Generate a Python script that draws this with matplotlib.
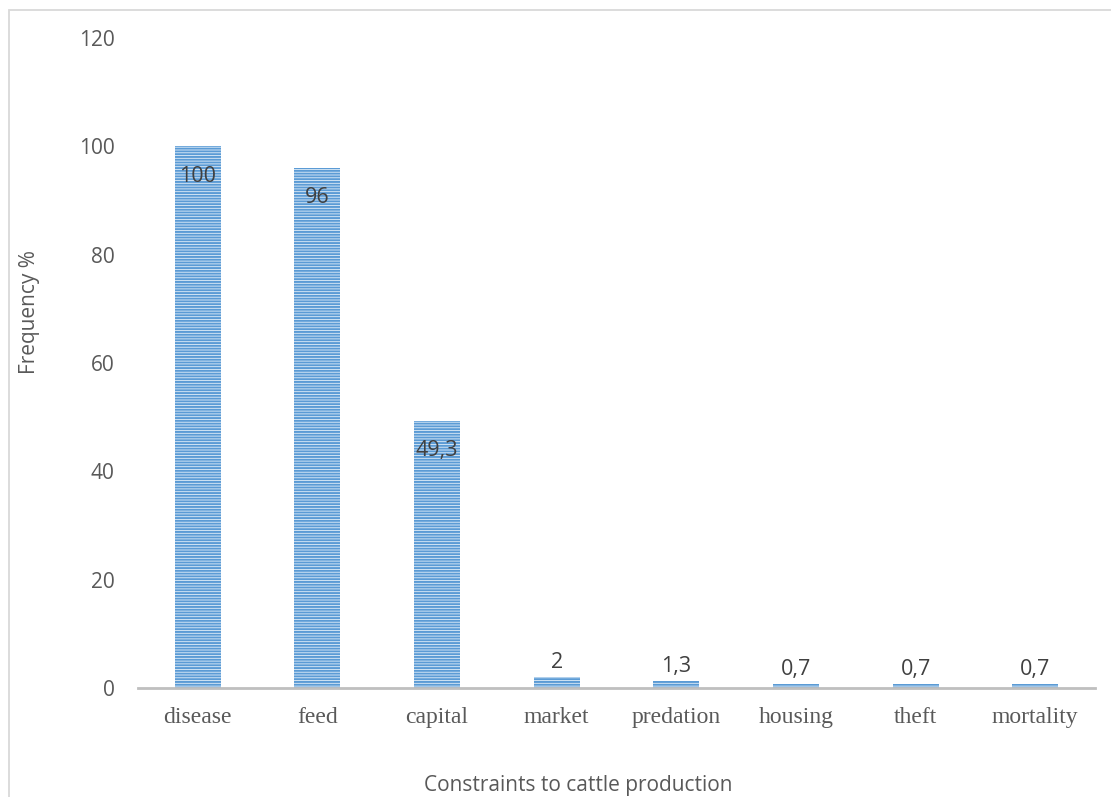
import numpy as np
import matplotlib.pyplot as plt
from matplotlib.patches import Rectangle

# data
categories = ['disease', 'feed', 'capital', 'market', 'predation', 'housing', 'theft', 'mortality']
frequency = [100, 96, 49.3, 2, 1.3, 0.7, 0.7, 0.7]
value_labels = ['100', '96', '49,3', '2', '1,3', '0,7', '0,7', '0,7']
yticks = [0, 20, 40, 60, 80, 100, 120]

sans = ['Open Sans', 'DejaVu Sans']
serif = ['Liberation Serif', 'DejaVu Serif']

plt.rcParams['hatch.linewidth'] = 1.4

fig = plt.figure(figsize=(11.11, 7.97), dpi=100)
ax = fig.add_axes([138 / 1111, 109 / 797, 957 / 1111, 650 / 797])

# light frame around the chart area (cut off at right and bottom)
fig.patches.append(Rectangle((9 / 1111, -0.1), 1.2, (797 - 10) / 797 + 0.1,
                             transform=fig.transFigure, fill=False,
                             edgecolor='#D9D9D9', linewidth=1.3))

x = np.arange(len(categories))
# hatch takes the edge colour; linewidth 0 keeps the outline itself hidden
bars = ax.bar(x, frequency, width=0.385, color='#E2EEF9', edgecolor='#5B9BD5',
              linewidth=0, hatch='------', zorder=2)

for i, (v, lab) in enumerate(zip(frequency, value_labels)):
    if v > 20:
        ax.annotate(lab, (x[i], v), xytext=(0, -14), textcoords='offset points',
                    ha='center', va='top', fontsize=15.5, color='#404040', family=sans)
    else:
        ax.annotate(lab, (x[i], v), xytext=(0, 3), textcoords='offset points',
                    ha='center', va='bottom', fontsize=15.5, color='#404040', family=sans)

ax.set_xlim(-0.5, len(categories) - 0.5)
ax.set_ylim(0, 120)
ax.set_yticks(yticks)
ax.set_yticklabels([str(t) for t in yticks], fontsize=15, color='#595959', family=sans)
ax.set_xticks(x)
ax.set_xticklabels(categories, fontsize=17, color='#595959', family=serif)
ax.tick_params(axis='both', length=0)
ax.tick_params(axis='y', pad=17)
ax.tick_params(axis='x', pad=14)

for s in ['top', 'right', 'left']:
    ax.spines[s].set_visible(False)
ax.spines['bottom'].set_color('#BFBFBF')
ax.spines['bottom'].set_linewidth(2)
ax.spines['bottom'].set_zorder(3)

fig.text(30 / 1111, 1 - 312 / 797, 'Frequency %', rotation=90, ha='center', va='center',
         fontsize=15, color='#595959', family=sans)
fig.text(578 / 1111, 1 - 785 / 797, 'Constraints to cattle production', ha='center',
         va='center', fontsize=15, color='#595959', family=sans)

fig.savefig('out.png', dpi=100)
